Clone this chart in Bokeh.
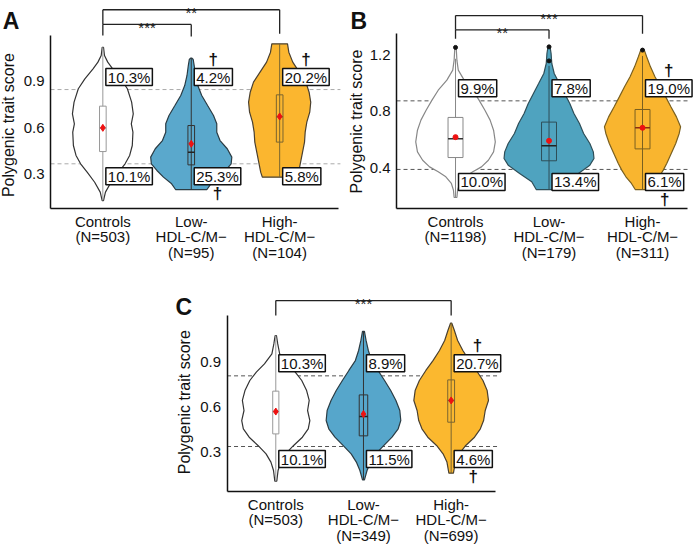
import math
from bokeh.plotting import figure
from bokeh.models import Range1d, FixedTicker, Spacer
from bokeh.layouts import row, column
from bokeh.embed import file_html
from bokeh.resources import INLINE
from bokeh.core.properties import value

FONT = "Liberation Sans"
M = "\u2212"

groups = ["Controls", "Low-HDL-C/M" + M, "High-HDL-C/M" + M]
pos = [1, 2, 3]

# ---------------- Panel A ----------------
A_ticks = ["Controls\n(N=503)", "Low-\nHDL-C/M" + M + "\n(N=95)", "High-\nHDL-C/M" + M + "\n(N=104)"]
A_ctrl_y = [1.121, 1.068, 1.025, 0.982, 0.917, 0.853, 0.767, 0.691, 0.627, 0.573, 0.487, 0.423, 0.369, 0.315, 0.250, 0.186, 0.132]
A_ctrl_d = [2, 5, 15, 30, 55, 75, 88, 93, 87, 92, 90, 82, 68, 48, 25, 8, 2]
A_low_y = [1.051, 1.042, 1.003, 0.939, 0.874, 0.810, 0.745, 0.681, 0.627, 0.573, 0.519, 0.466, 0.412, 0.369, 0.326, 0.283, 0.240, 0.203]
A_low_d = [2, 6, 9, 13, 20, 32, 50, 68, 78, 78, 88, 110, 124, 122, 105, 85, 60, 48]
A_high_y = [1.143, 1.089, 1.025, 0.960, 0.896, 0.831, 0.767, 0.702, 0.638, 0.573, 0.509, 0.444, 0.380, 0.315, 0.283]
A_high_d = [24, 28, 40, 60, 80, 90, 95, 92, 83, 78, 76, 70, 64, 58, 53]
A_q1 = [0.448, 0.362, 0.509]
A_q3 = [0.741, 0.616, 0.814]
A_med = [0.600, 0.444, 0.672]
A_mean = [0.601, 0.498, 0.674]
A_wlo = [0.132, 0.203, 0.283]
A_whi = [1.121, 1.051, 1.143]
A_thr = [0.848, 0.369]
A_pct_hi = ["10.3%", "4.2%", "20.2%"]
A_pct_lo = ["10.1%", "25.3%", "5.8%"]
A_dag_hi = [False, True, True]
A_dag_lo = [False, True, False]
A_comps = [(0, 1, "***", 1.268, 1.197, 1.190), (0, 2, "**", 1.363, 1.268, 1.208)]

# ---------------- Panel B ----------------
B_ticks = ["Controls\n(N=1198)", "Low-\nHDL-C/M" + M + "\n(N=179)", "High-\nHDL-C/M" + M + "\n(N=311)"]
B_ctrl_y = [1.250, 1.160, 1.090, 1.019, 0.948, 0.878, 0.807, 0.737, 0.666, 0.584, 0.513, 0.454, 0.407, 0.372, 0.337, 0.290, 0.243, 0.191]
B_ctrl_d = [2, 4, 8, 25, 50, 68, 85, 100, 110, 115, 110, 95, 75, 50, 28, 12, 6, 4]
B_low_y = [1.254, 1.207, 1.137, 1.066, 0.995, 0.925, 0.854, 0.784, 0.713, 0.643, 0.572, 0.513, 0.466, 0.419, 0.360, 0.302, 0.247]
B_low_d = [3, 6, 8, 15, 30, 45, 60, 72, 88, 100, 118, 128, 130, 118, 85, 50, 37]
B_high_y = [1.226, 1.184, 1.113, 1.043, 0.972, 0.901, 0.831, 0.760, 0.690, 0.643, 0.572, 0.501, 0.431, 0.384, 0.337, 0.290, 0.247]
B_high_d = [6, 12, 23, 36, 52, 67, 82, 98, 110, 106, 96, 83, 70, 60, 48, 32, 21]
B_q1 = [0.473, 0.450, 0.534]
B_q3 = [0.756, 0.723, 0.812]
B_med = [0.605, 0.556, 0.683]
B_mean = [0.617, 0.591, 0.683]
B_wlo = [0.191, 0.247, 0.247]
B_whi = [1.17, 1.12, 1.19]
B_out_x = [1, 2, 2, 3]
B_out_y = [1.250, 1.254, 1.155, 1.231]
B_thr = [0.873, 0.389]
B_pct_hi = ["9.9%", "7.8%", "19.0%"]
B_pct_lo = ["10.0%", "13.4%", "6.1%"]
B_dag_hi = [False, False, True]
B_dag_lo = [False, False, True]
B_comps = [(0, 1, "**", 1.374, 1.311, 1.311), (0, 2, "***", 1.475, 1.374, 1.346)]

# ---------------- Panel C ----------------
C_ticks = ["Controls\n(N=503)", "Low-\nHDL-C/M" + M + "\n(N=349)", "High-\nHDL-C/M" + M + "\n(N=699)"]
C_ctrl_y = [1.078, 1.022, 0.956, 0.889, 0.834, 0.778, 0.711, 0.645, 0.578, 0.511, 0.456, 0.400, 0.345, 0.289, 0.234, 0.178, 0.107]
C_ctrl_d = [2, 6, 12, 35, 60, 80, 95, 103, 98, 105, 100, 82, 55, 30, 15, 7, 3]
C_low_y = [1.105, 1.045, 0.978, 0.911, 0.845, 0.778, 0.711, 0.645, 0.578, 0.511, 0.456, 0.400, 0.345, 0.289, 0.234, 0.178, 0.116]
C_low_d = [3, 8, 15, 25, 45, 65, 84, 100, 112, 115, 107, 88, 63, 38, 22, 11, 3]
C_high_y = [1.160, 1.111, 1.045, 0.978, 0.911, 0.845, 0.778, 0.711, 0.645, 0.578, 0.511, 0.456, 0.400, 0.345, 0.289, 0.234, 0.160]
C_high_d = [2, 10, 20, 36, 56, 78, 98, 111, 115, 105, 100, 90, 72, 45, 25, 13, 7]
C_q1 = [0.422, 0.409, 0.500]
C_q3 = [0.707, 0.682, 0.782]
C_med = [0.571, 0.538, 0.645]
C_mean = [0.571, 0.554, 0.645]
C_wlo = [0.107, 0.116, 0.160]
C_whi = [1.078, 1.105, 1.160]
C_thr = [0.809, 0.338]
C_pct_hi = ["10.3%", "8.9%", "20.7%"]
C_pct_lo = ["10.1%", "11.5%", "4.6%"]
C_dag_hi = [False, False, True]
C_dag_lo = [False, False, True]
C_comps = [(0, 2, "***", 1.311, 1.211, 1.211)]

K = 0.0037  # density -> half-width in category units


def text_w(s):
    w = 0.0
    for ch in s:
        w += 8.34 if ch.isdigit() else (4.17 if ch == "." else 13.34)
    return w


def build(cfg):
    x0, x1 = cfg["xr"]
    y0, y1 = cfg["yr"]
    ax_x0, ax_x1 = cfg["xaxis_bounds"]
    ax_y0, ax_y1 = cfg["yaxis_bounds"]
    p = figure(frame_width=cfg["w"], frame_height=cfg["h"],
               x_range=Range1d(x0, x1), y_range=Range1d(y0, y1),
               output_backend="svg", toolbar_location=None, title=None,
               min_border=0)
    p.outline_line_color = None
    p.grid.visible = False
    p.background_fill_color = "white"
    p.border_fill_color = "white"

    # axes, fixed at the axis corner inside the frame
    p.xaxis.fixed_location = ax_y0
    p.yaxis.fixed_location = ax_x0
    p.xaxis.bounds = (ax_x0, ax_x1)
    p.yaxis.bounds = (ax_y0, ax_y1)
    p.xaxis.ticker = FixedTicker(ticks=pos)
    p.xaxis.major_label_overrides = {pp: t for pp, t in zip(pos, cfg["ticks"])}
    p.yaxis.ticker = FixedTicker(ticks=cfg["yticks"])
    for ax in (p.xaxis, p.yaxis):
        ax.major_tick_line_color = None
        ax.minor_tick_line_color = None
        ax.major_tick_out = 0
        ax.major_tick_in = 0
        ax.axis_line_color = "#111111"
        ax.axis_line_width = 1.5
        ax.major_label_text_font = FONT
        ax.major_label_text_font_size = "15px"
        ax.major_label_text_color = "#111111"
    p.xaxis.major_label_text_line_height = 0.93
    p.xaxis.major_label_standoff = 4
    p.yaxis.major_label_standoff = 6

    # threshold lines (from the y axis to the end of the x axis)
    p.segment(x0=[ax_x0] * 2, x1=[ax_x1 + 0.02] * 2, y0=cfg["thr"], y1=cfg["thr"],
              line_color=cfg["dash_color"], line_dash="4 3", line_width=1)

    # violins
    for i, (ys, ds) in enumerate(cfg["violins"]):
        c = pos[i]
        left = [c - d * K for d in ds]
        right = [c + d * K for d in ds]
        p.patch(left + right[::-1], ys + ys[::-1], fill_color=cfg["fills"][i],
                line_color=cfg["outlines"][i], line_width=1.2)

    # whiskers
    p.segment(x0=pos, y0=cfg["wlo"], x1=pos, y1=cfg["whi"], line_color=cfg["box_lines"], line_width=1)
    # boxes
    bw = cfg["box_w"]
    lefts = [c - w / 2 for c, w in zip(pos, bw)]
    rights = [c + w / 2 for c, w in zip(pos, bw)]
    p.quad(left=lefts, right=rights, bottom=cfg["q1"], top=cfg["q3"], fill_color=cfg["box_fills"],
           fill_alpha=cfg["box_alpha"], line_color=cfg["box_lines"], line_width=1)
    p.segment(x0=lefts, y0=cfg["med"], x1=rights, y1=cfg["med"],
              line_color=cfg["med_colors"], line_width=1.5)
    if "out_x" in cfg:
        p.scatter(cfg["out_x"], cfg["out_y"], size=4, color="#111111")
    p.scatter(pos, cfg["mean"], marker=cfg["mean_marker"], size=cfg["mean_size"],
              fill_color="#ee1111", line_color="#ee1111")

    # percentage boxes
    padx = 2
    common = dict(text_font=value(FONT), text_font_size="15px", text_color="#111111",
                  background_fill_color="white", border_line_color="#111111",
                  border_line_width=1.5, padding=(padx, 0))
    p.text(x=pos, y=[cfg["thr"][0]] * 3, text=cfg["pct_hi"], x_offset=3, y_offset=-4,
           text_align="left", text_baseline="bottom", **common)
    p.text(x=pos, y=[cfg["thr"][1]] * 3, text=cfg["pct_lo"], x_offset=3, y_offset=4,
           text_align="left", text_baseline="top", **common)

    # daggers
    for labels, flags, thr, dy in ((cfg["pct_hi"], cfg["dag_hi"], cfg["thr"][0], -30),
                                   (cfg["pct_lo"], cfg["dag_lo"], cfg["thr"][1], 30)):
        for i in range(3):
            if flags[i]:
                off = 3 + (text_w(labels[i]) + 2 * padx) / 2
                p.text(x=[pos[i]], y=[thr], text=["\u2020"], x_offset=off, y_offset=dy,
                       text_align="center", text_baseline="middle",
                       text_font=value(FONT), text_font_size="17px", text_font_style="bold",
                       text_color="#111111")

    # significance brackets
    for (i, j, lab, yb, yl, yr_) in cfg["comps"]:
        xi, xj = pos[i], pos[j]
        p.segment(x0=[xi, xi, xj], y0=[yb, yb, yb], x1=[xj, xi, xj], y1=[yb, yl, yr_],
                  line_color="#222222", line_width=1.3)
        p.text(x=[(xi + xj) / 2], y=[yb], text=[lab], y_offset=3, text_align="center",
               text_baseline="alphabetic", text_font=value(FONT), text_font_size="15px",
               text_color="#222222")

    # y-axis title
    p.text(x=[cfg["title_xy"][0]], y=[cfg["title_xy"][1]], text=["Polygenic trait score"],
           angle=math.pi / 2, text_align="center", text_baseline="middle",
           text_font=value(FONT), text_font_size="16px", text_color="#111111")
    # panel letter
    p.text(x=[cfg["letter_xy"][0]], y=[cfg["letter_xy"][1]], text=[cfg["letter"]],
           text_align="left", text_baseline="alphabetic", text_font=value(FONT),
           text_font_size="23px", text_font_style="bold", text_color="#111111")
    return p


pA = build(dict(
    letter="A", ticks=A_ticks, w=346, h=266,
    xr=(-0.1576, 3.756), yr=(-0.2936, 1.4226),
    xaxis_bounds=(0.408, 3.667), yaxis_bounds=(0.0806, 1.197), yticks=[0.3, 0.6, 0.9],
    thr=A_thr, dash_color="#aaaaaa",
    violins=[(A_ctrl_y, A_ctrl_d), (A_low_y, A_low_d), (A_high_y, A_high_d)],
    fills=["white", "#5aa8cc", "#fbb62f"], outlines=["#333333", "#2b3c44", "#4a4030"],
    box_lines=["#999999", "#333333", "#7a6530"], box_fills=["white", "#5aa8cc", "#fbb62f"],
    box_alpha=[1, 0, 0], med_colors=["#999999", "#222222", "#7a6530"], box_w=[0.075, 0.075, 0.075],
    q1=A_q1, q3=A_q3, med=A_med, mean=A_mean, wlo=A_wlo, whi=A_whi,
    mean_marker="diamond", mean_size=7,
    pct_hi=A_pct_hi, pct_lo=A_pct_lo, dag_hi=A_dag_hi, dag_lo=A_dag_lo, comps=A_comps,
    title_xy=(-0.0615, 0.619), letter_xy=(-0.133, 1.2935)))

pB = build(dict(
    letter="B", ticks=B_ticks, w=348, h=266,
    xr=(-0.166, 3.556), yr=(-0.296, 1.5812),
    xaxis_bounds=(0.369, 3.481), yaxis_bounds=(0.1133, 1.348), yticks=[0.4, 0.8, 1.2],
    thr=B_thr, dash_color="#555555",
    violins=[(B_ctrl_y, B_ctrl_d), (B_low_y, B_low_d), (B_high_y, B_high_d)],
    fills=["white", "#4fa3bf", "#f9b52f"], outlines=["#888888", "#2e4e58", "#7a6020"],
    box_lines=["#888888", "#2e4e58", "#7a6020"], box_fills=["white", "#4fa3bf", "#f9b52f"],
    box_alpha=[1, 0, 0], med_colors=["#333333", "#222222", "#8a3010"], box_w=[0.16, 0.16, 0.16],
    q1=B_q1, q3=B_q3, med=B_med, mean=B_mean, wlo=B_wlo, whi=B_whi,
    out_x=B_out_x, out_y=B_out_y,
    mean_marker="circle", mean_size=5,
    pct_hi=B_pct_hi, pct_lo=B_pct_lo, dag_hi=B_dag_hi, dag_lo=B_dag_lo, comps=B_comps,
    title_xy=(-0.059, 0.727), letter_xy=(-0.123, 1.440)))

pC = build(dict(
    letter="C", ticks=C_ticks, w=340, h=287,
    xr=(-0.178, 3.6996), yr=(-0.3753, 1.538),
    xaxis_bounds=(0.444, 3.508), yaxis_bounds=(0.038, 1.211), yticks=[0.3, 0.6, 0.9],
    thr=C_thr, dash_color="#555555",
    violins=[(C_ctrl_y, C_ctrl_d), (C_low_y, C_low_d), (C_high_y, C_high_d)],
    fills=["white", "#56a6cb", "#fbb82f"], outlines=["#333333", "#2b3c44", "#4a4030"],
    box_lines=["#999999", "#333333", "#7a6530"], box_fills=["white", "#56a6cb", "#fbb82f"],
    box_alpha=[1, 0, 0], med_colors=["#999999", "#222222", "#7a6530"], box_w=[0.07, 0.097, 0.078],
    q1=C_q1, q3=C_q3, med=C_med, mean=C_mean, wlo=C_wlo, whi=C_whi,
    mean_marker="diamond", mean_size=7,
    pct_hi=C_pct_hi, pct_lo=C_pct_lo, dag_hi=C_dag_hi, dag_lo=C_dag_lo, comps=C_comps,
    title_xy=(-0.045, 0.633), letter_xy=(-0.145, 1.271)))

layout = column(row(pA, pB), row(Spacer(width=172, height=10), pC))
open("out.html", "w").write(file_html(layout, INLINE))
